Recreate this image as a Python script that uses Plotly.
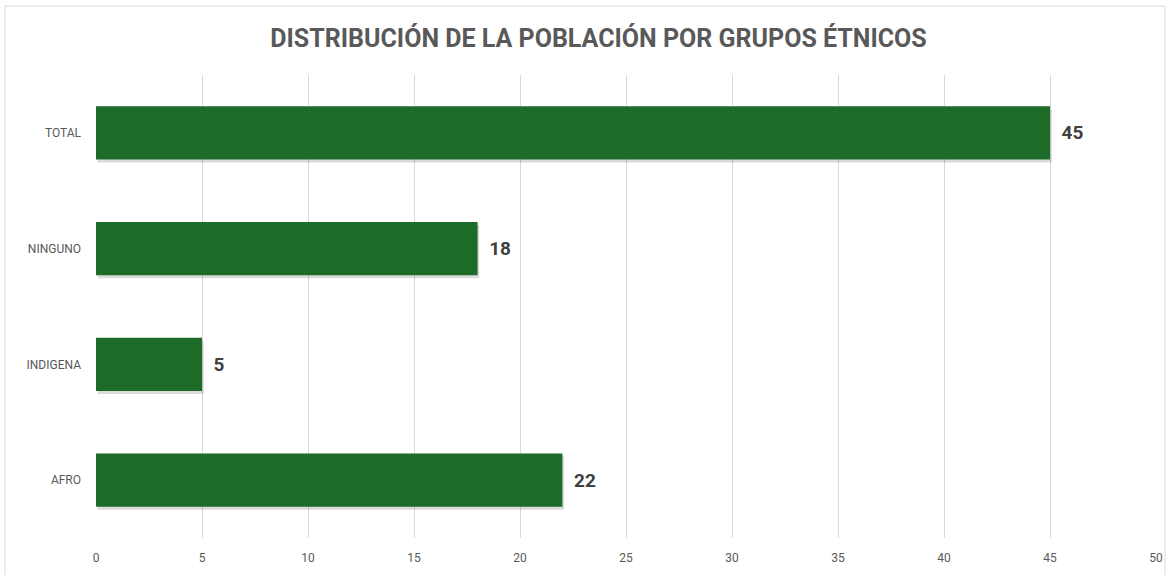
import plotly.graph_objects as go

categories = ["AFRO", "INDIGENA", "NINGUNO", "TOTAL"]
values = [22, 5, 18, 45]
x_ticks = [0, 5, 10, 15, 20, 25, 30, 35, 40, 45, 50]

W, H = 1169, 575
L, R, T, B = 96, 13, 75, 37
pw = W - L - R
ph = H - T - B

fig = go.Figure()
# soft shadow
fig.add_trace(go.Bar(
    y=categories, x=values, orientation="h",
    marker=dict(color="rgba(0,0,0,0.14)", line=dict(width=0)),
    width=0.46, offset=-0.23 - 0.025, base=0.08,
    hoverinfo="skip", showlegend=False,
))
fig.add_trace(go.Bar(
    y=categories, x=values, orientation="h",
    marker=dict(color="#1c6b28", line=dict(width=0)),
    width=0.46,
    text=[str(v) for v in values], textposition="outside",
    textfont=dict(family="Roboto", size=19, color="#404040", weight="bold"),
    texttemplate=" \u2009%{text}",
    cliponaxis=False, showlegend=False,
))

fig.update_layout(
    width=W, height=H,
    margin=dict(l=L, r=R, t=T, b=B, autoexpand=False),
    paper_bgcolor="white", plot_bgcolor="white",
    barmode="overlay",
    title=dict(text="<b>DISTRIBUCIÓN DE LA POBLACIÓN POR GRUPOS ÉTNICOS</b>",
               x=0.512, xanchor="center", y=1 - 38 / H, yanchor="middle",
               font=dict(family="Roboto", size=25, color="#595959")),
    xaxis=dict(range=[0, 50], tickvals=x_ticks, showgrid=True, gridcolor="#d9d9d9",
               gridwidth=1, zeroline=False, showline=False,
               tickfont=dict(family="Roboto", size=12, color="#595959"), ticks="",
               ticklabelstandoff=11, fixedrange=True),
    yaxis=dict(categoryorder="array", categoryarray=categories, showgrid=False,
               zeroline=False, showline=False, ticks="", ticklabelstandoff=14,
               tickfont=dict(family="Roboto", size=12, color="#595959")),
    shapes=[dict(type="rect", xref="paper", yref="paper",
                 x0=(5 - L) / pw, x1=(1165 - L) / pw,
                 y0=(H - B - 580) / ph, y1=(H - B - 6) / ph,
                 line=dict(color="#d9d9d9", width=1), fillcolor="rgba(0,0,0,0)",
                 layer="below")],
)

fig.write_html("out.html", config={"displayModeBar": False},
               post_script="document.body.style.margin='0';document.body.style.overflow='hidden';")
